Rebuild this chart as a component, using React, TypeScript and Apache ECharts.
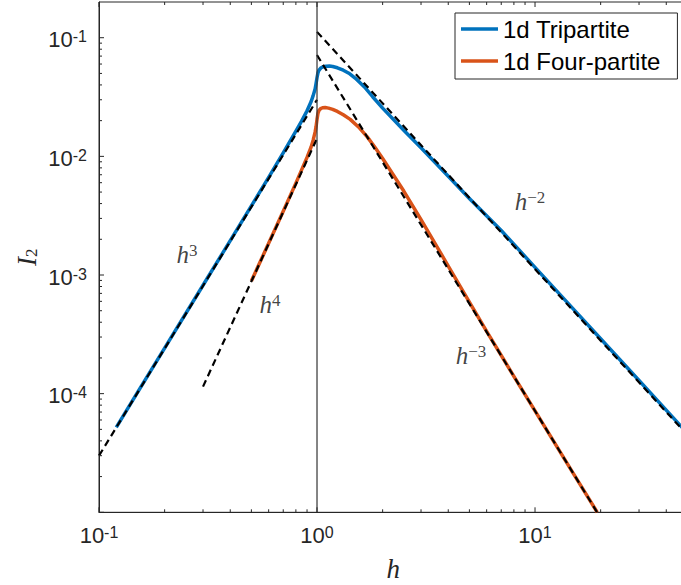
import React, { useEffect, useRef } from 'react';
import * as echarts from 'echarts';

// ---- axis ranges ----
const hRange = [0.1, 50];
const iRange = [1e-5, 0.2];

// ---- 1d Tripartite (blue) ----
const tripartiteH = [0.12, 0.15, 0.2, 0.3, 0.4, 0.5, 0.6, 0.7, 0.8, 0.85, 0.9, 0.94, 0.96, 0.98, 0.99, 1.0, 1.01, 1.02, 1.04, 1.07, 1.1, 1.14, 1.18, 1.24, 1.32, 1.4, 1.5, 1.65, 1.8, 2, 2.5, 3, 4, 5, 7, 10, 15, 20, 30, 50];
const tripartiteI = [5.2e-5, 1.02e-4, 2.42e-4, 8.2e-4, 1.95e-3, 3.82e-3, 6.65e-3, 1.07e-2, 1.63e-2, 1.98e-2, 2.42e-2, 2.9e-2, 3.25e-2, 3.7e-2, 4.1e-2, 4.6e-2, 5.05e-2, 5.3e-2, 5.55e-2, 5.7e-2, 5.76e-2, 5.77e-2, 5.72e-2, 5.58e-2, 5.32e-2, 5.02e-2, 4.55e-2, 3.85e-2, 3.18e-2, 2.55e-2, 1.66e-2, 1.18e-2, 6.8e-3, 4.42e-3, 2.37e-3, 1.16e-3, 5.16e-4, 2.9e-4, 1.29e-4, 4.64e-5];

// ---- 1d Four-partite (red) ----
const fourPartiteH = [0.5, 0.6, 0.7, 0.8, 0.9, 0.94, 0.96, 0.98, 0.99, 1.0, 1.01, 1.02, 1.04, 1.06, 1.09, 1.13, 1.18, 1.24, 1.32, 1.42, 1.55, 1.7, 1.85, 2, 2.5, 3, 4, 5, 6, 8, 10, 15, 19.3];
const fourPartiteI = [8.9e-4, 1.85e-3, 3.45e-3, 5.95e-3, 9.8e-3, 1.2e-2, 1.37e-2, 1.6e-2, 1.78e-2, 2.05e-2, 2.3e-2, 2.43e-2, 2.53e-2, 2.57e-2, 2.58e-2, 2.55e-2, 2.49e-2, 2.39e-2, 2.24e-2, 2.05e-2, 1.77e-2, 1.46e-2, 1.18e-2, 9.6e-3, 5.1e-3, 2.93e-3, 1.19e-3, 5.9e-4, 3.35e-4, 1.4e-4, 7.15e-5, 2.12e-5, 1.0e-5];

// ---- power-law guides (dashed) ----
const law3H = [0.1, 1];
const law3I = [3.0e-5, 3.0e-2];
const law4H = [0.3, 1];
const law4I = [1.146e-4, 1.415e-2];
const lawM2H = [1, 50];
const lawM2I = [0.112, 4.48e-5];
const lawM3H = [1, 19.27];
const lawM3I = [0.0715, 1.0e-5];

// ---- vertical line at h = 1 ----
const criticalH = [1, 1];
const criticalI = [1e-5, 0.2];

// ---- ticks ----
const xMajorTicks = [0.1, 1, 10];
const xMinorTicks = [0.2, 0.3, 0.4, 0.5, 0.6, 0.7, 0.8, 0.9, 2, 3, 4, 5, 6, 7, 8, 9, 20, 30, 40];
const yMajorTicks = [1e-5, 1e-4, 1e-3, 1e-2, 1e-1];
const yMinorTicks = [
  2e-5, 3e-5, 4e-5, 5e-5, 6e-5, 7e-5, 8e-5, 9e-5,
  2e-4, 3e-4, 4e-4, 5e-4, 6e-4, 7e-4, 8e-4, 9e-4,
  2e-3, 3e-3, 4e-3, 5e-3, 6e-3, 7e-3, 8e-3, 9e-3,
  2e-2, 3e-2, 4e-2, 5e-2, 6e-2, 7e-2, 8e-2, 9e-2,
];
const yHiddenExponents = [-5];

// ---- legend / annotations ----
const legendNames = ['1d Tripartite', '1d Four-partite'];
const annotationH = [0.2533, 0.609, 9.486, 5.087];
const annotationI = [1.503e-3, 5.59e-4, 4.125e-3, 2.08e-4];
const annotationExp = ['3', '4', '\u22122', '\u22123'];

const AXIS = '#262626';
const SANS = "'Liberation Sans', Arial, Helvetica, sans-serif";
const SERIF = "'Liberation Serif', 'Times New Roman', serif";

const pairs = (h: number[], v: number[]) => h.map((x, i) => [x, v[i]]);

const powLabel = (hide: number[]) => (v: number) => {
  const l = Math.log10(v);
  const e = Math.round(l);
  if (Math.abs(l - e) > 1e-6) return '';
  if (hide.includes(e)) return '';
  return `{b|10}{s|${e}}`;
};

const tickRich = {
  b: { fontFamily: SANS, fontSize: 22, lineHeight: 22, color: AXIS, verticalAlign: 'bottom', padding: [7, 0, 0, 0] },
  s: { fontFamily: SANS, fontSize: 16, lineHeight: 16, color: AXIS, verticalAlign: 'top' },
};

const dashed = (name: string, h: number[], v: number[]) => ({
  name,
  type: 'line',
  data: pairs(h, v),
  symbol: 'none',
  silent: true,
  lineStyle: { color: '#000', width: 2.2, type: [7, 4.5] },
  z: 3,
});

const curve = (name: string, h: number[], v: number[], color: string) => ({
  name,
  type: 'line',
  data: pairs(h, v),
  symbol: 'none',
  smooth: false,
  color,
  lineStyle: { color, width: 3.5, join: 'round', cap: 'butt' },
  z: 2,
});

// tick marks drawn through the axes' own scales (both sides of the box)
const tickSeries = (name: string, values: number[], axis: 'x' | 'y', len: number) => ({
  name,
  type: 'custom',
  coordinateSystem: 'cartesian2d',
  silent: true,
  clip: false,
  z: 6,
  data: values.map((v) => (axis === 'x' ? [v, iRange[0]] : [hRange[0], v])),
  renderItem: (_params: any, api: any) => {
    const style = { stroke: AXIS, lineWidth: 1, fill: null };
    if (axis === 'x') {
      const v = api.value(0);
      const b = api.coord([v, iRange[0]]);
      const t = api.coord([v, iRange[1]]);
      return {
        type: 'group',
        children: [
          { type: 'line', shape: { x1: b[0], y1: b[1], x2: b[0], y2: b[1] - len }, style },
          { type: 'line', shape: { x1: t[0], y1: t[1], x2: t[0], y2: t[1] + len }, style },
        ],
      };
    }
    const v = api.value(1);
    const l = api.coord([hRange[0], v]);
    const r = api.coord([hRange[1], v]);
    return {
      type: 'group',
      children: [
        { type: 'line', shape: { x1: l[0], y1: l[1], x2: l[0] + len, y2: l[1] }, style },
        { type: 'line', shape: { x1: r[0], y1: r[1], x2: r[0] - len, y2: r[1] }, style },
      ],
    };
  },
});

function buildOption() {
  return {
    animation: false,
    backgroundColor: '#fff',
    grid: {
      left: 99, top: 2, width: 588.4, height: 510.3,
      show: true, borderColor: AXIS, borderWidth: 1, backgroundColor: 'transparent',
      containLabel: false, outerBoundsMode: 'none',
    },
    legend: {
      data: legendNames,
      orient: 'vertical',
      left: 455,
      top: 13,
      icon: 'rect',
      itemWidth: 37,
      itemHeight: 3.5,
      itemGap: 8,
      padding: [4, 17, 6, 6],
      borderColor: AXIS,
      borderWidth: 1,
      borderRadius: 0,
      backgroundColor: '#fff',
      selectedMode: false,
      textStyle: { fontFamily: SANS, fontSize: 24, lineHeight: 24, color: '#000' },
    },
    xAxis: {
      type: 'log',
      logBase: 10,
      min: hRange[0],
      max: hRange[1],
      position: 'bottom',
      axisLine: { show: true, onZero: false, lineStyle: { color: AXIS, width: 1 } },
      axisTick: { show: false },
      axisLabel: { formatter: powLabel([]), rich: tickRich, margin: 12, color: AXIS },
      splitLine: { show: false },
      minorTick: { show: false },
      name: 'h',
      nameLocation: 'middle',
      nameGap: 43,
      nameMoveOverlap: false,
      nameTextStyle: { fontFamily: SERIF, fontStyle: 'italic', fontSize: 27, color: AXIS },
    },
    yAxis: {
      type: 'log',
      logBase: 10,
      min: iRange[0],
      max: iRange[1],
      position: 'left',
      axisLine: { show: true, onZero: false, lineStyle: { color: AXIS, width: 1 } },
      axisTick: { show: false },
      axisLabel: { formatter: powLabel(yHiddenExponents), rich: tickRich, margin: 12, color: AXIS, padding: [4, 0, 0, 0] },
      splitLine: { show: false },
      minorTick: { show: false },
      name: '{i|I}{sub|2}',
      nameLocation: 'middle',
      nameGap: 59,
      nameMoveOverlap: false,
      nameTextStyle: {
        color: AXIS,
        rich: {
          i: { fontFamily: SERIF, fontStyle: 'italic', fontSize: 27, lineHeight: 27, color: AXIS, verticalAlign: 'top', padding: [0, 0, 5, 0] },
          sub: { fontFamily: SERIF, fontSize: 17, lineHeight: 17, color: AXIS, verticalAlign: 'bottom' },
        },
      },
    },
    series: [
      curve(legendNames[0], tripartiteH, tripartiteI, '#0072BD'),
      curve(legendNames[1], fourPartiteH, fourPartiteI, '#D95319'),
      dashed('law3', law3H, law3I),
      dashed('law4', law4H, law4I),
      dashed('lawM2', lawM2H, lawM2I),
      dashed('lawM3', lawM3H, lawM3I),
      {
        name: 'critical',
        type: 'line',
        data: pairs(criticalH, criticalI),
        symbol: 'none',
        silent: true,
        lineStyle: { color: '#333', width: 1.2 },
        z: 4,
      },
      {
        name: 'labels',
        type: 'scatter',
        data: pairs(annotationH, annotationI),
        symbolSize: 0,
        silent: true,
        z: 5,
        label: {
          show: true,
          position: 'inside',
          formatter: (p: any) => `{h|h}{s|${annotationExp[p.dataIndex]}}`,
          rich: {
            h: { fontFamily: SERIF, fontStyle: 'italic', fontSize: 25, lineHeight: 25, color: '#111', verticalAlign: 'bottom', padding: [2, 0, 0, 0] },
            s: { fontFamily: SERIF, fontSize: 17, lineHeight: 17, color: '#111', verticalAlign: 'top' },
          },
        },
      },
      tickSeries('xMajor', xMajorTicks, 'x', 5),
      tickSeries('xMinor', xMinorTicks, 'x', 3),
      tickSeries('yMajor', yMajorTicks, 'y', 5),
      tickSeries('yMinor', yMinorTicks, 'y', 3),
    ],
  };
}

export default function App() {
  const ref = useRef<HTMLDivElement>(null);
  useEffect(() => {
    if (!ref.current) return;
    const chart = echarts.init(ref.current, null, { renderer: 'svg' });
    chart.setOption(buildOption() as any);
    return () => chart.dispose();
  }, []);
  return (
    <div style={{ position: 'fixed', left: 0, top: 0, width: 681, height: 585, overflow: 'hidden', background: '#fff' }}>
      <div ref={ref} style={{ width: 690, height: 585 }} />
    </div>
  );
}
